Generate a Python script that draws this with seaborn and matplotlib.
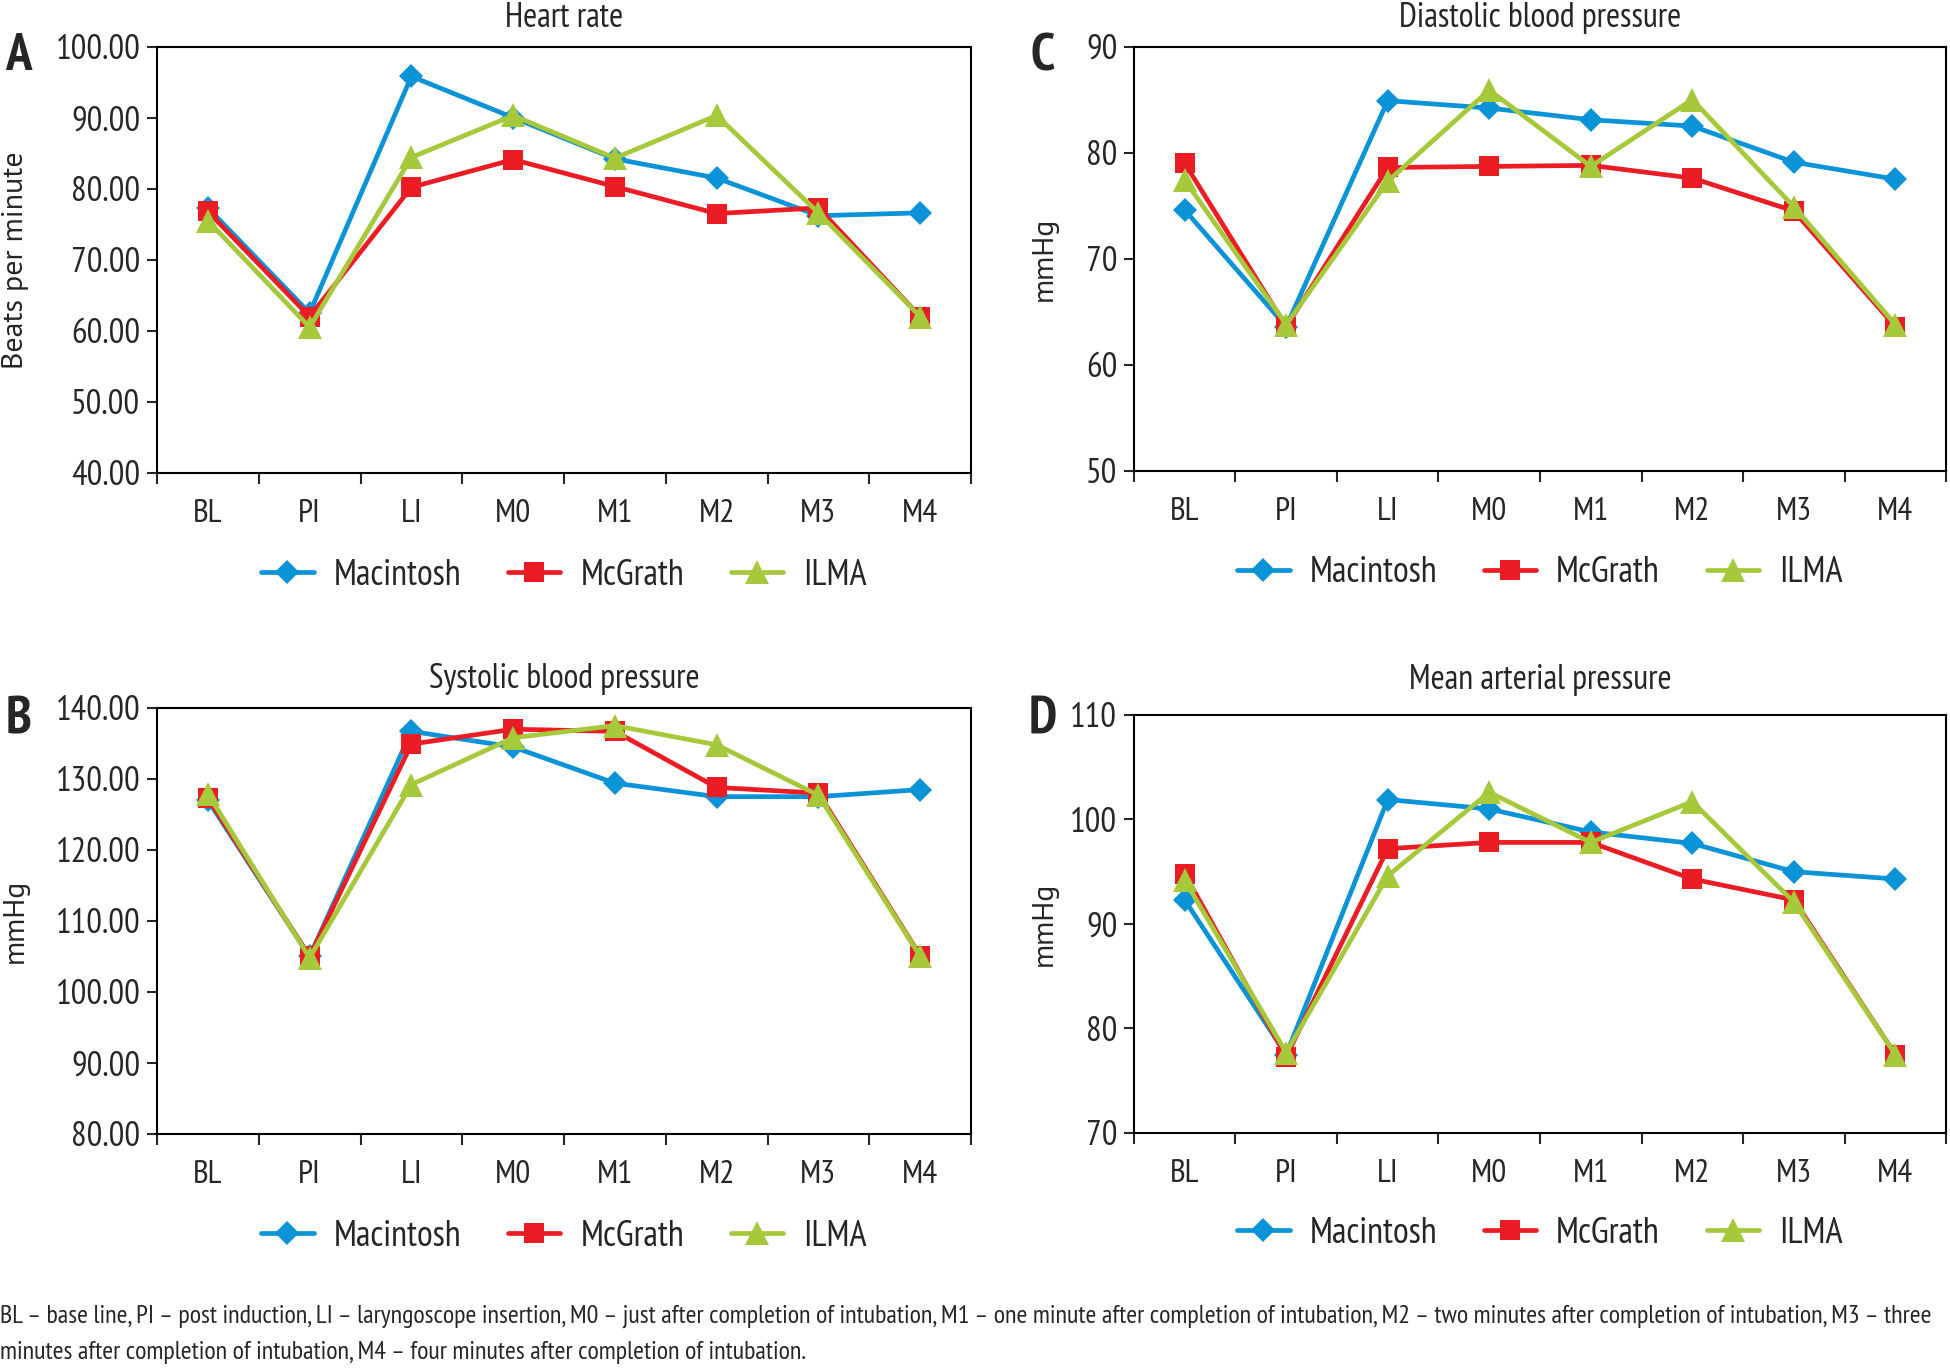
import numpy as np
import pandas as pd
import seaborn as sns
import matplotlib.pyplot as plt

# time points and devices
timepoints = ["BL", "PI", "LI", "M0", "M1", "M2", "M3", "M4"]
devices = ["Macintosh", "McGrath", "ILMA"]

# Heart rate (beats per minute)
hr_macintosh = [77.3, 62.5, 95.8, 90.0, 84.2, 81.5, 76.2, 76.6]
hr_mcgrath = [76.8, 62.0, 80.2, 84.1, 80.3, 76.5, 77.3, 62.0]
hr_ilma = [75.5, 60.5, 84.4, 90.3, 84.3, 90.3, 76.6, 62.0]

# Systolic blood pressure (mmHg)
sbp_macintosh = [127.0, 105.0, 136.7, 134.5, 129.4, 127.5, 127.5, 128.5]
sbp_mcgrath = [127.3, 105.0, 134.9, 137.0, 136.7, 128.8, 128.0, 105.1]
sbp_ilma = [127.9, 104.8, 129.2, 135.8, 137.5, 134.8, 127.7, 105.0]

# Diastolic blood pressure (mmHg)
dbp_macintosh = [74.6, 63.6, 84.9, 84.2, 83.1, 82.5, 79.1, 77.5]
dbp_mcgrath = [79.0, 63.6, 78.6, 78.7, 78.8, 77.6, 74.5, 63.6]
dbp_ilma = [77.4, 63.8, 77.3, 85.9, 78.7, 85.0, 74.9, 63.8]

# Mean arterial pressure (mmHg)
map_macintosh = [92.3, 77.5, 101.9, 101.0, 98.8, 97.7, 95.0, 94.3]
map_mcgrath = [94.8, 77.3, 97.2, 97.8, 97.8, 94.3, 92.3, 77.5]
map_ilma = [94.2, 77.7, 94.6, 102.6, 97.8, 101.7, 92.1, 77.5]

caption_1 = ("BL \u2013 base line, PI \u2013 post induction, LI \u2013 laryngoscope insertion, "
             "M0 \u2013 just after completion of intubation, M1 \u2013 one minute after completion of intubation, "
             "M2 \u2013 two minutes after completion of intubation, M3 \u2013 three")
caption_2 = "minutes after completion of intubation, M4 \u2013 four minutes after completion of intubation."

palette = {"Macintosh": "#0a93d6", "McGrath": "#ec1c24", "ILMA": "#a5c93a"}
markers = {"Macintosh": "D", "McGrath": "s", "ILMA": "^"}
marker_sizes = {"D": 12.5, "s": 14.5, "^": 17}

sns.set_style("white")
plt.rcParams["font.family"] = ["PT Sans Narrow", "DejaVu Sans"]
wide_font = ["PT Sans", "DejaVu Sans"]


def long_table(a, b, c):
    return pd.DataFrame({
        "time": timepoints * 3,
        "value": a + b + c,
        "device": np.repeat(devices, len(timepoints)),
    })


panels = [
    # letter, title, ylabel, data, ylim, fmt, axes rect, ylabel x, letter xy, title pad
    ("A", "Heart rate", "Beats per minute", long_table(hr_macintosh, hr_mcgrath, hr_ilma),
     (40, 100), "{:.2f}", [0.0805, 0.6545, 0.4175, 0.3115], -0.157, (0.0095, 0.958), 14),
    ("C", "Diastolic blood pressure", "mmHg", long_table(dbp_macintosh, dbp_mcgrath, dbp_ilma),
     (50, 90), "{:.0f}", [0.5815, 0.6560, 0.4165, 0.3100], -0.094, (0.5345, 0.958), 14),
    ("B", "Systolic blood pressure", "mmHg", long_table(sbp_macintosh, sbp_mcgrath, sbp_ilma),
     (80, 140), "{:.2f}", [0.0805, 0.1717, 0.4175, 0.3112], -0.157, (0.0095, 0.474), 14),
    ("D", "Mean arterial pressure", "mmHg", long_table(map_macintosh, map_mcgrath, map_ilma),
     (70, 110), "{:.0f}", [0.5815, 0.1724, 0.4165, 0.3054], -0.094, (0.5345, 0.474), 19),
]

fig = plt.figure(figsize=(19.5, 13.69), dpi=100)

for letter, title, ylabel, df, ylim, fmt, rect, lx, lxy, tpad in panels:
    ax = fig.add_axes(rect)
    sns.lineplot(data=df, x="time", y="value", hue="device", style="device",
                 palette=palette, markers=markers, dashes=False, sort=False,
                 linewidth=3.4, markersize=14, markeredgewidth=0, ax=ax)
    for line in ax.lines:
        m = line.get_marker()
        if m in marker_sizes:
            line.set_markersize(marker_sizes[m])

    ax.set_xlim(-0.5, len(timepoints) - 0.5)
    ax.set_ylim(*ylim)
    yt = np.arange(ylim[0], ylim[1] + 1, 10)
    ax.set_yticks(yt)
    ax.set_yticklabels([fmt.format(v) for v in yt])
    ax.set_xticks(np.arange(-0.5, len(timepoints), 1), minor=True)
    ax.tick_params(axis="x", which="major", length=0, pad=19, labelsize=24)
    ax.tick_params(axis="x", which="minor", length=8, width=1.5, direction="out", bottom=True)
    ax.tick_params(axis="y", length=7, width=1.5, direction="out", pad=5, labelsize=25, left=True)
    for s in ax.spines.values():
        s.set_color("black")
        s.set_linewidth(1.5)

    ax.set_xlabel("")
    ax.set_ylabel(ylabel, fontsize=21.5, family=wide_font)
    ax.yaxis.set_label_coords(lx, 0.5)
    ax.set_title(title, fontsize=24.5, pad=tpad)

    handles, labels = ax.get_legend_handles_labels()
    ax.legend(handles, labels, loc="center", bbox_to_anchor=(0.5, -0.24), ncol=3,
              frameon=False, fontsize=26, handlelength=1.45, handletextpad=0.55,
              columnspacing=1.3)

    fig.text(lxy[0], lxy[1], letter, fontsize=38, fontweight="bold",
             ha="center", va="center")

fig.text(0.0, 1 - 1316 / 1369, caption_1, fontsize=18.8, ha="left", va="center")
fig.text(0.0, 1 - 1353 / 1369, caption_2, fontsize=18.8, ha="left", va="center")

fig.savefig("out.png", dpi=100)
